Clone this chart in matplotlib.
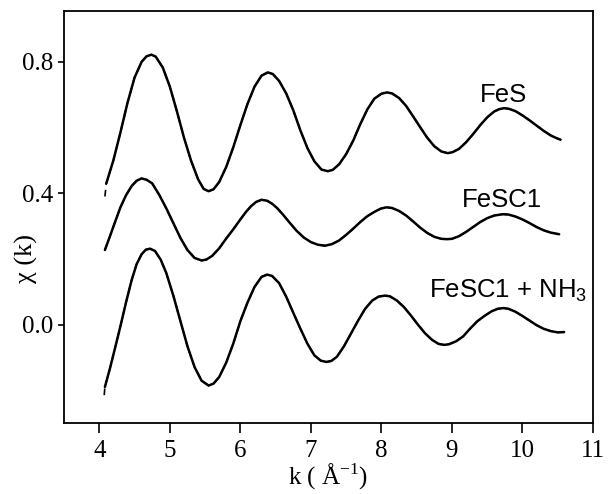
import matplotlib
matplotlib.use("Agg")
import matplotlib.pyplot as plt

# ---- data (chi(k) curves, offset stacked) ----
fes_x = [4.10, 4.20, 4.30, 4.40, 4.50, 4.60, 4.67, 4.74,
         4.80, 4.90, 5.00, 5.10, 5.20, 5.30, 5.40, 5.48, 5.55,
         5.62, 5.70, 5.80, 5.90, 6.00, 6.10, 6.20, 6.30, 6.39,
         6.46, 6.55, 6.65, 6.75, 6.85, 6.95, 7.05, 7.15, 7.24,
         7.31, 7.40, 7.50, 7.60, 7.70, 7.80, 7.90, 8.00, 8.08,
         8.15, 8.25, 8.35, 8.45, 8.55, 8.65, 8.75, 8.85, 8.94,
         9.01, 9.10, 9.20, 9.30, 9.40, 9.50, 9.60, 9.67, 9.74,
         9.81, 9.90, 10.00, 10.10, 10.20, 10.30, 10.40, 10.48, 10.54]
fes_y = [0.430, 0.500, 0.585, 0.675, 0.752, 0.800, 0.817, 0.822,
         0.816, 0.783, 0.725, 0.650, 0.570, 0.500, 0.443, 0.413, 0.406,
         0.412, 0.434, 0.480, 0.540, 0.607, 0.671, 0.724, 0.758, 0.768,
         0.763, 0.742, 0.704, 0.653, 0.592, 0.538, 0.497, 0.472, 0.467,
         0.471, 0.488, 0.519, 0.560, 0.610, 0.655, 0.688, 0.703, 0.707,
         0.704, 0.690, 0.666, 0.634, 0.601, 0.569, 0.543, 0.527, 0.522,
         0.525, 0.535, 0.555, 0.580, 0.607, 0.631, 0.649, 0.656, 0.659,
         0.657, 0.650, 0.637, 0.622, 0.606, 0.590, 0.576, 0.568, 0.563]

fesc1_x = [4.08, 4.15, 4.22, 4.30, 4.38, 4.46, 4.53, 4.60,
           4.67, 4.75, 4.85, 4.95, 5.05, 5.15, 5.25, 5.35, 5.45,
           5.52, 5.60, 5.70, 5.80, 5.90, 6.00, 6.08, 6.15, 6.22, 6.30,
           6.38, 6.45, 6.52, 6.60, 6.70, 6.80, 6.90, 7.00, 7.10, 7.20,
           7.30, 7.40, 7.50, 7.60, 7.70, 7.80, 7.90, 7.99, 8.07,
           8.15, 8.25, 8.35, 8.45, 8.55, 8.65, 8.75, 8.85, 8.93,
           9.00, 9.10, 9.20, 9.30, 9.40, 9.50, 9.60, 9.72,
           9.80, 9.90, 10.00, 10.10, 10.20, 10.30, 10.40, 10.52]
fesc1_y = [0.227, 0.268, 0.310, 0.357, 0.394, 0.422, 0.438, 0.445,
           0.441, 0.430, 0.395, 0.354, 0.309, 0.264, 0.227, 0.203, 0.195,
           0.198, 0.209, 0.232, 0.262, 0.290, 0.320, 0.343, 0.360, 0.373, 0.380,
           0.377, 0.368, 0.355, 0.336, 0.310, 0.285, 0.265, 0.251, 0.243, 0.240,
           0.245, 0.256, 0.273, 0.292, 0.312, 0.330, 0.343, 0.353, 0.357,
           0.355, 0.346, 0.332, 0.314, 0.295, 0.279, 0.267, 0.261, 0.260,
           0.261, 0.269, 0.282, 0.297, 0.312, 0.324, 0.332, 0.336,
           0.335, 0.329, 0.320, 0.309, 0.297, 0.287, 0.280, 0.275]

nh3_x = [4.08, 4.15, 4.22, 4.30, 4.38, 4.46, 4.53, 4.60, 4.66, 4.72,
         4.79, 4.87, 4.95, 5.05, 5.15, 5.25, 5.35, 5.45, 5.55,
         5.62, 5.70, 5.80, 5.90, 6.00, 6.10, 6.20, 6.30, 6.38,
         6.45, 6.55, 6.65, 6.75, 6.85, 6.95, 7.05, 7.14, 7.22,
         7.29, 7.37, 7.47, 7.57, 7.67, 7.77, 7.87, 7.96, 8.05,
         8.12, 8.22, 8.32, 8.42, 8.52, 8.62, 8.72, 8.81, 8.89,
         8.96, 9.06, 9.16, 9.26, 9.36, 9.46, 9.56, 9.65, 9.73,
         9.80, 9.90, 10.00, 10.10, 10.20, 10.30, 10.40, 10.50, 10.59]
nh3_y = [-0.190, -0.135, -0.075, -0.005, 0.068, 0.136, 0.184, 0.214, 0.228, 0.231,
         0.224, 0.198, 0.157, 0.088, 0.011, -0.066, -0.129, -0.171, -0.186,
         -0.180, -0.160, -0.116, -0.058, 0.010, 0.066, 0.114, 0.145, 0.152,
         0.148, 0.126, 0.085, 0.036, -0.012, -0.058, -0.094, -0.110, -0.114,
         -0.111, -0.098, -0.066, -0.027, 0.012, 0.048, 0.073, 0.085, 0.088,
         0.086, 0.073, 0.053, 0.027, -0.001, -0.027, -0.047, -0.059, -0.062,
         -0.060, -0.051, -0.036, -0.012, 0.010, 0.026, 0.040, 0.048, 0.050,
         0.048, 0.039, 0.026, 0.012, -0.002, -0.013, -0.020, -0.024, -0.023]

# fitted curves (dashed) coincide with the data except at the low-k end
fes_fit_x = [4.08] + fes_x
fes_fit_y = [0.390] + fes_y
fesc1_fit_x = list(fesc1_x)
fesc1_fit_y = list(fesc1_y)
nh3_fit_x = [4.07] + nh3_x
nh3_fit_y = [-0.215] + nh3_y

labels = ["FeS", "FeSC1", r"FeSC1 + NH$_\mathregular{3}$"]
label_x = [9.73, 9.71, 9.80]
label_y = [0.677, 0.359, 0.081]

x_ticks = [4, 5, 6, 7, 8, 9, 10, 11]
y_ticks = [0.0, 0.4, 0.8]
y_ticklabels = ["0.0", "0.4", "0.8"]

# ---- figure ----
fig = plt.figure(figsize=(6.10, 4.94), dpi=100)
ax = fig.add_axes([64 / 610, 1 - 423 / 494, (593 - 64) / 610, (423 - 11) / 494])

for xs, ys in [(fes_x, fes_y), (fesc1_x, fesc1_y), (nh3_x, nh3_y)]:
    ax.plot(xs, ys, color="black", lw=1.8, solid_capstyle="round", solid_joinstyle="round")
for xs, ys in [(fes_fit_x, fes_fit_y), (fesc1_fit_x, fesc1_fit_y), (nh3_fit_x, nh3_fit_y)]:
    ax.plot(xs, ys, color="black", lw=1.2, ls=(0, (4, 3)))

sans = ["Liberation Sans", "DejaVu Sans"]
for t, x, y in zip(labels, label_x, label_y):
    ax.text(x, y, t, ha="center", va="baseline", fontsize=18.5, family=sans)

ax.set_xlim(3.5, 11.0)
ax.set_ylim(-0.30, 0.955)
ax.set_xticks(x_ticks)
ax.set_yticks(y_ticks)
ax.set_yticklabels(y_ticklabels)

serif = ["Liberation Serif", "DejaVu Serif"]
for lab in ax.get_xticklabels() + ax.get_yticklabels():
    lab.set_family(serif)
    lab.set_fontsize(18)

ax.tick_params(axis="x", direction="out", length=7, width=1.2, pad=5)
ax.tick_params(axis="y", direction="out", length=4, width=1.2, pad=4)
for s in ax.spines.values():
    s.set_linewidth(1.3)

ax.set_xlabel(r"k ( Å$^{\mathregular{-1}}$)", family=serif, fontsize=18, labelpad=0)
ax.set_ylabel("χ (k)", family=serif, fontsize=19)
ax.yaxis.set_label_coords(-0.05, 0.40)

fig.savefig("out.png", dpi=100)
